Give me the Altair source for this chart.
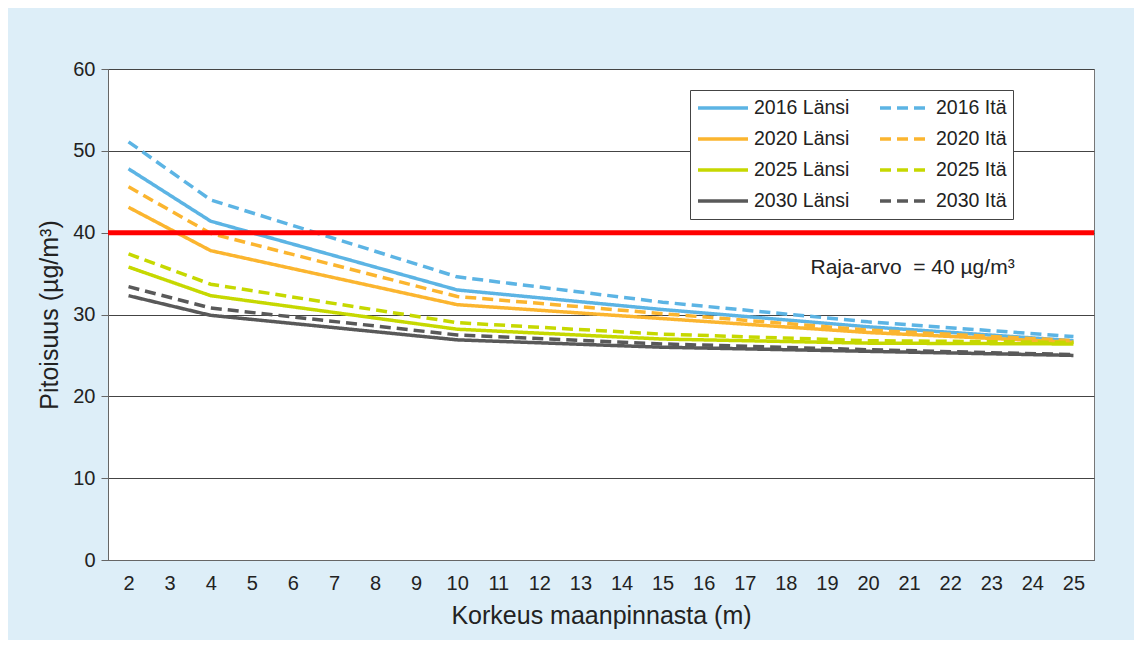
import altair as alt
import pandas as pd

heights = [2, 4, 10, 15, 20, 25]
series_names = ["2016 Länsi", "2020 Länsi", "2025 Länsi", "2030 Länsi",
                "2016 Itä", "2020 Itä", "2025 Itä", "2030 Itä"]
v2016_lansi = [47.8, 41.4, 33.0, 30.6, 28.5, 26.8]
v2016_ita = [51.1, 44.0, 34.6, 31.5, 29.1, 27.3]
v2020_lansi = [43.1, 37.8, 31.2, 29.5, 27.8, 26.6]
v2020_ita = [45.6, 39.9, 32.2, 30.1, 28.1, 26.8]
v2025_lansi = [35.8, 32.3, 28.2, 27.0, 26.5, 26.4]
v2025_ita = [37.4, 33.7, 29.0, 27.6, 26.8, 26.6]
v2030_lansi = [32.3, 29.9, 26.9, 26.0, 25.5, 25.0]
v2030_ita = [33.4, 30.8, 27.5, 26.4, 25.7, 25.1]
limit_value = 40
x_ticks = list(range(2, 26))

colors = ["#5cb4e4", "#fbb52f", "#c6d800", "#595959",
          "#5cb4e4", "#fbb52f", "#c6d800", "#595959"]
dashes = [[1, 0], [1, 0], [1, 0], [1, 0], [11, 6], [11, 6], [11, 6], [11, 6]]

all_vals = [v2016_lansi, v2020_lansi, v2025_lansi, v2030_lansi,
            v2016_ita, v2020_ita, v2025_ita, v2030_ita]
rows = []
for name, vals in zip(series_names, all_vals):
    for h, v in zip(heights, vals):
        rows.append({"Korkeus": h, "Pitoisuus": v, "Sarja": name})
df = pd.DataFrame(rows)

FONT = "Liberation Sans"

xscale = alt.Scale(domain=[1.5, 25.5], nice=False, zero=False)
yscale = alt.Scale(domain=[0, 60], nice=False)

legend_opts = dict(title=None, orient="none", legendX=582, legendY=21,
                   columns=2, symbolType="stroke", symbolSize=2500,
                   symbolStrokeWidth=3.5, labelFontSize=19.5,
                   labelFont=FONT, labelColor="#222", clipHeight=24,
                   columnPadding=28, rowPadding=7,
                   padding=6, strokeColor="#444", fillColor="white",
                   labelOffset=4, labelLimit=200)

lines = alt.Chart(df).mark_line(strokeWidth=3.5).encode(
    x=alt.X("Korkeus:Q", scale=xscale,
            axis=alt.Axis(values=x_ticks, title="Korkeus maanpinnasta (m)",
                          grid=False, ticks=False, domain=True, domainColor="#666",
                          labelFontSize=20, labelFont=FONT, labelColor="#222",
                          labelPadding=13, titleFontSize=25, titleFont=FONT,
                          titleColor="#222", titleFontWeight="normal", titlePadding=10)),
    y=alt.Y("Pitoisuus:Q", scale=yscale,
            axis=alt.Axis(values=[0, 10, 20, 30, 40, 50, 60], title="Pitoisuus (µg/m³)",
                          grid=True, gridColor="#444", gridWidth=1,
                          ticks=True, tickSize=7, tickColor="#666", domainColor="#666",
                          labelFontSize=20, labelFont=FONT, labelColor="#222",
                          labelPadding=6, titleFontSize=25, titleFont=FONT,
                          titleColor="#222", titleFontWeight="normal", titlePadding=10)),
    color=alt.Color("Sarja:N", scale=alt.Scale(domain=series_names, range=colors),
                    legend=alt.Legend(**legend_opts)),
    strokeDash=alt.StrokeDash("Sarja:N", scale=alt.Scale(domain=series_names, range=dashes),
                              legend=alt.Legend(**legend_opts)),
    detail="Sarja:N",
)

limit_df = pd.DataFrame({"y": [limit_value]})
limit = alt.Chart(limit_df).mark_rule(color="#ff0000", strokeWidth=5).encode(y=alt.Y("y:Q", scale=yscale))

ann_df = pd.DataFrame({"x": [18.6], "y": [35.7], "t": ["Raja-arvo\u00a0\u00a0= 40 µg/m³"]})
ann = alt.Chart(ann_df).mark_text(align="left", baseline="middle", fontSize=21,
                                  font=FONT, color="#222").encode(
    x=alt.X("x:Q", scale=xscale), y=alt.Y("y:Q", scale=yscale), text="t:N")

chart = alt.layer(lines, limit, ann).properties(
    width=986, height=491,
    background="#ddeef8",
    padding={"left": 100, "top": 61, "right": 40, "bottom": 80},
    autosize=alt.AutoSizeParams(type="none"),
).configure_view(stroke="#777", fill="white", strokeWidth=1)

chart.save("out.html", embed_options={"renderer": "svg", "actions": False})
